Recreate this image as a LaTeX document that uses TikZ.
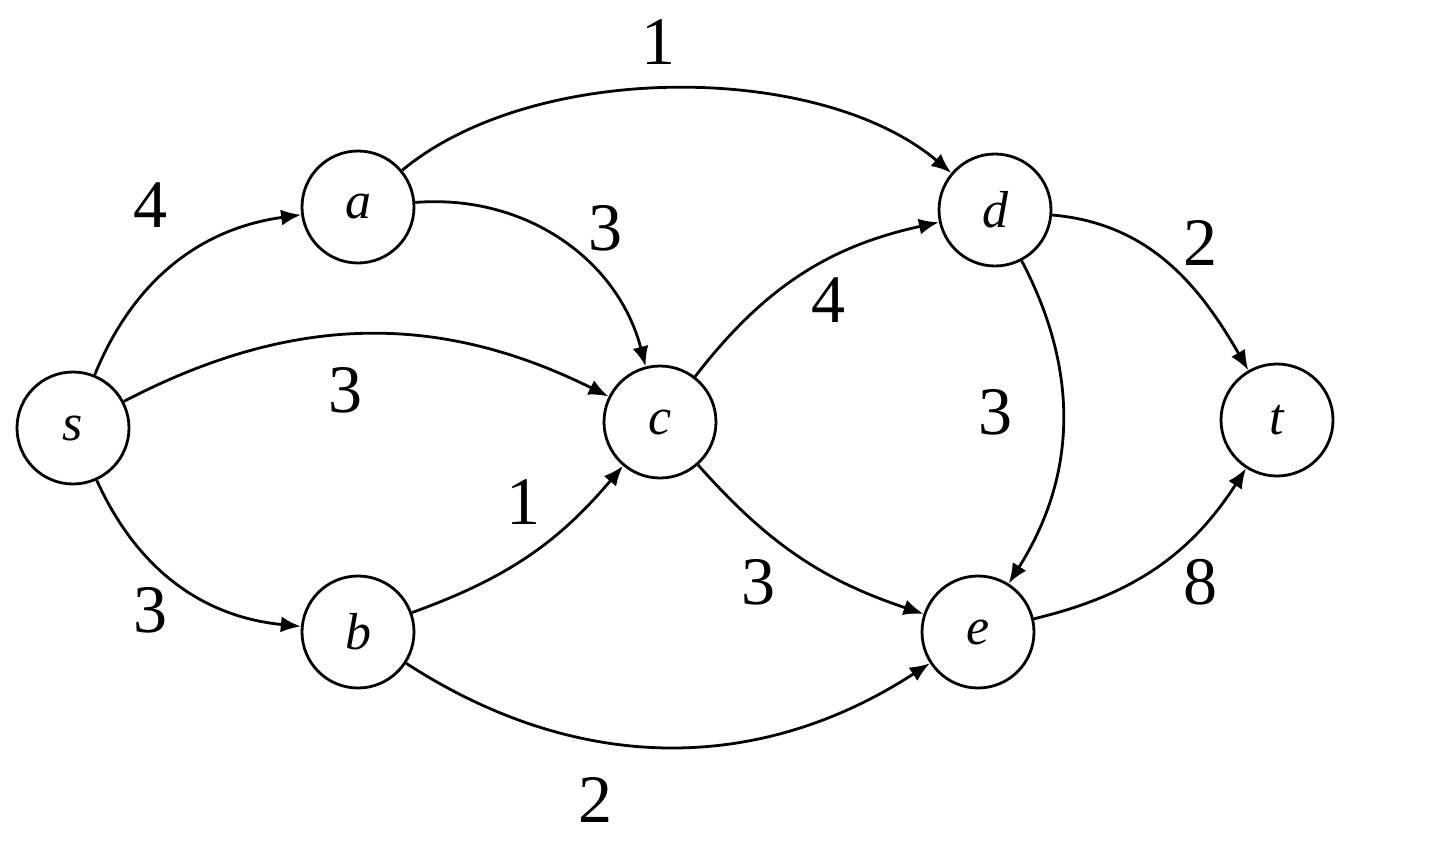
\documentclass[tikz,border=0pt]{standalone}
\usepackage{fontspec}
\setmainfont{Liberation Serif}
\usetikzlibrary{arrows.meta}
\begin{document}
\begin{tikzpicture}[x=0.5pt,y=-0.5pt,
  vertex/.style={circle,draw,line width=1.4pt,minimum size=56pt,inner sep=0pt,font=\fontsize{26}{30}\selectfont\itshape},
  edge/.style={line width=1.4pt,-{Latex[length=10pt,width=8pt]}},
  wlabel/.style={font=\fontsize{34}{40}\selectfont,inner sep=0pt}]
\useasboundingbox (0,0) rectangle (1434,851);
\node[vertex] (s) at (73,428) {s};
\node[vertex] (a) at (358,207) {a};
\node[vertex] (b) at (358,632) {b};
\node[vertex] (c) at (660,422) {c};
\node[vertex] (d) at (995,210) {d};
\node[vertex] (e) at (978,632) {e};
\node[vertex] (t) at (1277,420) {t};
\draw[edge] (s) to[bend left=30] (a);
\draw[edge] (s) to[bend left=27] (c);
\draw[edge] (s) to[bend right=30] (b);
\draw[edge] (a) to[bend left=40,looseness=0.8] (d);
\draw[edge] (a) to[bend left=40] (c);
\draw[edge] (b) to[bend right=15] (c);
\draw[edge] (b) to[bend right=33] (e);
\draw[edge] (c) to[bend left=20] (d);
\draw[edge] (c) to[bend right=15] (e);
\draw[edge] (d) to[bend left=30] (e);
\draw[edge] (d) to[out=-5,in=120] (t);
\draw[edge] (e) to[bend right=22] (t);
\node[wlabel] (l1) at (658,42) {1};
\node[wlabel] (l2) at (150,205) {4};
\node[wlabel] (l3) at (605,228) {3};
\node[wlabel] (l4) at (828,300) {4};
\node[wlabel] (l5) at (1200,243) {2};
\node[wlabel] (l6) at (345,390) {3};
\node[wlabel] (l7) at (995,412) {3};
\node[wlabel] (l8) at (523,502) {1};
\node[wlabel] (l9) at (150,610) {3};
\node[wlabel] (l10) at (758,582) {3};
\node[wlabel] (l11) at (1200,582) {8};
\node[wlabel] (l12) at (595,800) {2};
\end{tikzpicture}
\end{document}
